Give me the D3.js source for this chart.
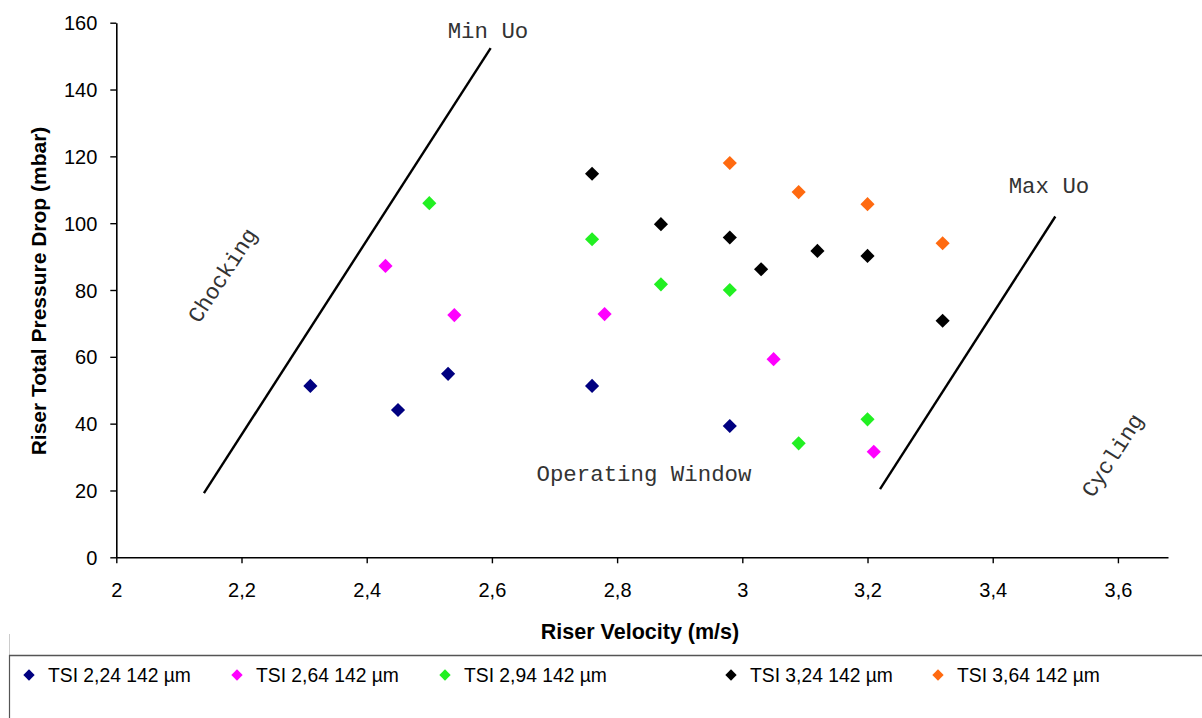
<!DOCTYPE html>
<html>
<head>
<meta charset="utf-8">
<script src="https://cdn.jsdelivr.net/npm/d3@7"></script>
<style>
  html, body { margin: 0; padding: 0; background: #fff; }
  svg { display: block; }
</style>
</head>
<body>
<svg id="chart" width="1202" height="718"></svg>
<script>
// Series: riser velocity (m/s) vs riser total pressure drop (mbar)
const seriesNames = ["TSI 2,24 142 µm", "TSI 2,64 142 µm", "TSI 2,94 142 µm", "TSI 3,24 142 µm", "TSI 3,64 142 µm"];
const seriesColors = ["#000080", "#ff00ff", "#22f022", "#000000", "#ff6a10"];

const tsi224 = [[2.31, 51.3], [2.45, 44.1], [2.53, 54.9], [2.76, 51.3], [2.98, 39.3]];
const tsi264 = [[2.43, 87.2], [2.54, 72.5], [2.78, 72.8], [3.05, 59.3], [3.21, 31.6]];
const tsi294 = [[2.50, 106.0], [2.76, 95.2], [2.87, 81.7], [2.98, 80.0], [3.09, 34.1], [3.20, 41.3]];
const tsi324 = [[2.76, 114.8], [2.87, 99.7], [2.98, 95.7], [3.03, 86.2], [3.12, 91.7], [3.20, 90.2], [3.32, 70.8]];
const tsi364 = [[2.98, 118.0], [3.09, 109.3], [3.20, 105.7], [3.32, 94.0]];

// Operating window boundaries
const minUoLine = [[2.14, 19.2], [2.598, 152.4]];
const maxUoLine = [[3.22, 20.4], [3.50, 102.0]];

const xTicks = [2, 2.2, 2.4, 2.6, 2.8, 3, 3.2, 3.4, 3.6];
const yTicks = [0, 20, 40, 60, 80, 100, 120, 140, 160];

const svg = d3.select("#chart");
const x = d3.scaleLinear().domain([2, 3.68]).range([116.3, 1168]);
const y = d3.scaleLinear().domain([0, 160]).range([557.3, 22.7]);
const fmt = d => String(d).replace(".", ",");
const sans = "'Liberation Sans', Arial, sans-serif";

// Axes
const xAxis = svg.append("g").attr("transform", `translate(0,${y(0)})`)
  .call(d3.axisBottom(x).tickValues(xTicks).tickFormat(fmt).tickSize(6).tickSizeOuter(0));
const yAxis = svg.append("g").attr("transform", `translate(${x(2)},0)`)
  .call(d3.axisLeft(y).tickValues(yTicks).tickSize(6).tickSizeOuter(0));
[xAxis, yAxis].forEach(a => {
  a.select(".domain").attr("stroke", "#000").attr("stroke-width", 1.6);
  a.selectAll(".tick line").attr("stroke", "#000").attr("stroke-width", 1.4);
  a.selectAll(".tick text").attr("fill", "#000")
    .style("font-family", sans).style("font-size", "20px");
});
xAxis.selectAll(".tick text").attr("y", 26);
yAxis.selectAll(".tick text").attr("x", -19).attr("dy", "0.35em");

// Axis titles
svg.append("text").attr("x", 640).attr("y", 639).attr("text-anchor", "middle")
  .style("font-family", sans).style("font-size", "21.5px").style("font-weight", "bold")
  .text("Riser Velocity (m/s)");
svg.append("text").attr("transform", "translate(46,291) rotate(-90)").attr("text-anchor", "middle")
  .style("font-family", sans).style("font-size", "21px").style("font-weight", "bold")
  .text("Riser Total Pressure Drop (mbar)");

// Boundary lines
const line = d3.line().x(d => x(d[0])).y(d => y(d[1]));
[minUoLine, maxUoLine].forEach(l => {
  svg.append("path").attr("d", line(l)).attr("fill", "none").attr("stroke", "#000").attr("stroke-width", 2.4);
});

// Annotations
const mono = "'Courier New', 'Liberation Mono', monospace";
function note(txt, cx, cy, rot) {
  svg.append("text").attr("transform", `translate(${cx},${cy}) rotate(${rot})`)
    .attr("text-anchor", "middle").attr("dy", "0.35em")
    .style("font-family", mono).style("font-size", "22.4px").attr("fill", "#333").text(txt);
}
note("Min Uo", 488, 30, 0);
note("Max Uo", 1049, 185, 0);
note("Operating Window", 644, 473, 0);
note("Chocking", 222, 275, -57);
note("Cycling", 1112, 455, -57);

// Markers
const diamond = d3.symbol().type(d3.symbolSquare).size(100);
const allSeries = [tsi224, tsi264, tsi294, tsi324, tsi364];
allSeries.forEach((pts, i) => {
  svg.append("g").selectAll("path").data(pts).join("path")
    .attr("d", diamond)
    .attr("transform", d => `translate(${x(d[0])},${y(d[1])}) rotate(45)`)
    .attr("fill", seriesColors[i]);
});

// Legend frame
svg.append("line").attr("x1", 9.5).attr("x2", 9.5).attr("y1", 634).attr("y2", 655)
  .attr("stroke", "#ccc").attr("stroke-width", 1);
svg.append("line").attr("x1", 9.5).attr("x2", 9.5).attr("y1", 655).attr("y2", 718)
  .attr("stroke", "#555").attr("stroke-width", 1.2);
svg.append("line").attr("x1", 9).attr("x2", 1202).attr("y1", 655.5).attr("y2", 655.5)
  .attr("stroke", "#555").attr("stroke-width", 1.4);

// Legend entries
const legendMarkerX = [29, 237, 445, 731, 938];
const legend = svg.append("g").selectAll("g").data(seriesNames).join("g")
  .attr("transform", (d, i) => `translate(${legendMarkerX[i]},675)`);
legend.append("path").attr("d", d3.symbol().type(d3.symbolSquare).size(64))
  .attr("transform", "rotate(45)").attr("fill", (d, i) => seriesColors[i]);
legend.append("text").attr("x", 19).attr("dy", "0.35em")
  .style("font-family", sans).style("font-size", "19.3px")
  .text(d => d);
</script>
</body>
</html>
